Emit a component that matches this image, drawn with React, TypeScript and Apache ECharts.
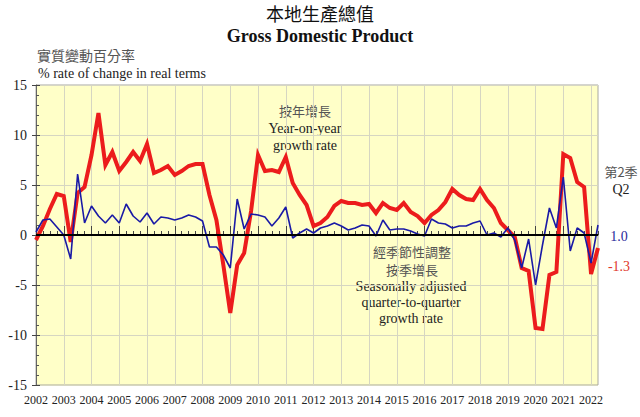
import React, { useEffect, useRef } from "react";
import * as echarts from "echarts";

const years = [
  "2002", "2003", "2004", "2005", "2006", "2007", "2008", "2009", "2010", "2011",
  "2012", "2013", "2014", "2015", "2016", "2017", "2018", "2019", "2020", "2021", "2022",
];
const quarterNames = ["Q1", "Q2", "Q3", "Q4"];
const lastYearQuarters = 2;

// Year-on-year growth rate (%)
const yoyGrowth = [
  -0.5, 0.9, 2.6, 4.1,
  3.9, -0.7, 4.2, 4.8,
  8.0, 12.2, 7.0, 8.3,
  6.4, 7.3, 8.3, 7.4,
  9.1, 6.2, 6.5, 6.9,
  6.0, 6.4, 6.9, 7.1,
  7.1, 4.0, 1.5, -3.0,
  -7.8, -3.0, -1.8, 2.4,
  8.0, 6.4, 6.5, 6.3,
  7.8, 5.2, 4.0, 3.0,
  0.9, 1.2, 1.8, 2.9,
  3.4, 3.2, 3.2, 3.0,
  3.1, 2.2, 3.2, 2.7,
  2.5, 3.2, 2.3, 1.9,
  1.2, 2.0, 2.5, 3.3,
  4.6, 4.0, 3.6, 3.5,
  4.6, 3.5, 2.7, 1.2,
  0.5, -0.2, -3.3, -3.6,
  -9.3, -9.4, -4.0, -3.7,
  8.1, 7.7, 5.3, 4.8,
  -3.9, -1.3,
];

// Seasonally adjusted quarter-to-quarter growth rate (%)
const qoqGrowth = [
  0.3, 1.5, 1.6, 0.8,
  0.0, -2.4, 6.1, 1.2,
  2.9, 1.9, 1.2, 2.0,
  1.2, 3.1, 1.9, 1.3,
  2.2, 1.1, 1.8, 1.7,
  1.5, 1.7, 2.0, 1.8,
  1.4, -1.2, -1.2, -2.0,
  -3.3, 3.6, 0.6, 2.1,
  2.0, 1.8, 0.9, 1.7,
  2.8, -0.3, 0.2, 0.6,
  0.2, 0.7, 0.9, 1.2,
  0.9, 0.5, 0.7, 1.0,
  0.9, -0.1, 1.5, 0.5,
  0.6, 0.6, 0.4, 0.1,
  -0.1, 1.6, 1.2, 1.1,
  0.7, 0.9, 0.9, 1.2,
  1.4, 0.0, 0.2, -0.2,
  0.7, -0.5, -3.3, -0.4,
  -5.0, -1.0, 2.7, 0.7,
  5.8, -1.6, 0.7, 0.2,
  -2.8, 1.0,
];

const categories: string[] = [];
years.forEach((y, i) => {
  const n = i === years.length - 1 ? lastYearQuarters : 4;
  for (let q = 0; q < n; q++) categories.push(`${y} ${quarterNames[q]}`);
});

const SERIF = "'Liberation Serif', 'Times New Roman', serif";
const CJK = "'Noto Sans CJK TC', 'Noto Sans CJK SC', sans-serif";
const RED = "#ec1c1c";
const BLUE = "#1a1aa6";

export default function App() {
  const ref = useRef<HTMLDivElement>(null);
  useEffect(() => {
    if (!ref.current) return;
    const chart = echarts.init(ref.current, undefined, { renderer: "svg" });
    const txt = (x: number, y: number, text: string, opts: any = {}) => ({
      type: "text",
      x,
      y,
      silent: true,
      style: {
        text,
        textAlign: "center",
        textVerticalAlign: "middle",
        fontFamily: SERIF,
        fontSize: 14,
        fill: "#222",
        ...opts,
      },
    });
    chart.setOption({
      animation: false,
      backgroundColor: "#ffffff",
      grid: {
        left: 36,
        right: 42,
        top: 85,
        bottom: 32,
        show: true,
        backgroundColor: "#ffffc8",
        borderColor: "#a8a8a0",
        borderWidth: 1,
      },
      xAxis: [
        {
          type: "category",
          data: categories,
          boundaryGap: false,
          axisLine: { show: true, lineStyle: { color: "#666", width: 1 } },
          axisTick: { show: true, inside: true, interval: 0, length: 4, lineStyle: { color: "#444" } },
          axisLabel: {
            interval: 3,
            formatter: (v: string) => v.slice(0, 4),
            fontFamily: SERIF,
            fontSize: 12,
            color: "#222",
            margin: 9,
          },
          splitLine: { show: true, interval: 3, lineStyle: { color: "#d6d6c2", width: 1 } },
        },
        {
          type: "category",
          data: categories,
          boundaryGap: false,
          position: "bottom",
          axisLine: { show: false },
          axisTick: { show: true, inside: true, interval: 3, length: 9, lineStyle: { color: "#444" } },
          axisLabel: { show: false },
          splitLine: { show: false },
        },
      ],
      yAxis: [
        {
          type: "value",
          min: -15,
          max: 15,
          interval: 5,
          axisLine: { show: true, lineStyle: { color: "#666" } },
          axisTick: { show: true, inside: true, length: 4, lineStyle: { color: "#444" } },
          minorTick: { show: true, splitNumber: 5, length: 3, lineStyle: { color: "#555" } },
          axisLabel: { fontFamily: SERIF, fontSize: 14, color: "#222", margin: 9 },
          splitLine: { show: true, lineStyle: { color: "#d6d6c2", width: 1 } },
        },
        {
          type: "value",
          min: -15,
          max: 15,
          interval: 5,
          position: "left",
          axisLine: { show: false },
          axisTick: { show: true, inside: false, length: 4, lineStyle: { color: "#444" } },
          axisLabel: { show: false },
          splitLine: { show: false },
        },
      ],
      series: [
        {
          type: "line",
          data: [],
          silent: true,
          z: 1,
          markLine: {
            silent: true,
            symbol: "none",
            label: { show: false },
            lineStyle: { color: "#000", width: 2, type: "solid" },
            data: [{ yAxis: 0 }],
          },
        },
        {
          name: "按年增長",
          type: "line",
          data: yoyGrowth,
          showSymbol: false,
          symbol: "none",
          z: 3,
          lineStyle: { color: RED, width: 4, join: "miter" },
          itemStyle: { color: RED },
        },
        {
          name: "按季增長",
          type: "line",
          data: qoqGrowth,
          showSymbol: false,
          symbol: "none",
          z: 4,
          lineStyle: { color: BLUE, width: 1.6 },
          itemStyle: { color: BLUE },
        },
      ],
      graphic: [
        txt(320, 13, "本地生產總值", { fontFamily: CJK, fontSize: 18, fill: "#111" }),
        txt(320, 36, "Gross Domestic Product", { fontSize: 18, fontWeight: "bold", fill: "#111" }),
        txt(37, 55, "實質變動百分率", { fontFamily: CJK, fontSize: 14, fill: "#555", textAlign: "left" }),
        txt(38, 73, "% rate of change in real terms", { fontSize: 14, textAlign: "left" }),
        txt(305, 110, "按年增長", { fontFamily: CJK, fontSize: 13, fill: "#555" }),
        txt(305, 128, "Year-on-year", { fontSize: 14 }),
        txt(305, 145, "growth rate", { fontSize: 14 }),
        txt(412, 251, "經季節性調整", { fontFamily: CJK, fontSize: 13, fill: "#555" }),
        txt(412, 269, "按季增長", { fontFamily: CJK, fontSize: 13, fill: "#555" }),
        txt(411, 286, "Seasonally adjusted", { fontSize: 14 }),
        txt(411, 302, "quarter-to-quarter", { fontSize: 14 }),
        txt(411, 318, "growth rate", { fontSize: 14 }),
        txt(621, 171, "第2季", { fontFamily: CJK, fontSize: 13, fill: "#555" }),
        txt(621, 189, "Q2", { fontSize: 14 }),
        txt(619, 236, "1.0", { fontSize: 14, fill: "#2a2a9a" }),
        txt(619, 266, "-1.3", { fontSize: 14, fill: "#e0362a" }),
      ],
    });
    return () => chart.dispose();
  }, []);
  return <div ref={ref} style={{ width: 640, height: 417, position: "absolute", left: 0, top: 0 }} />;
}
